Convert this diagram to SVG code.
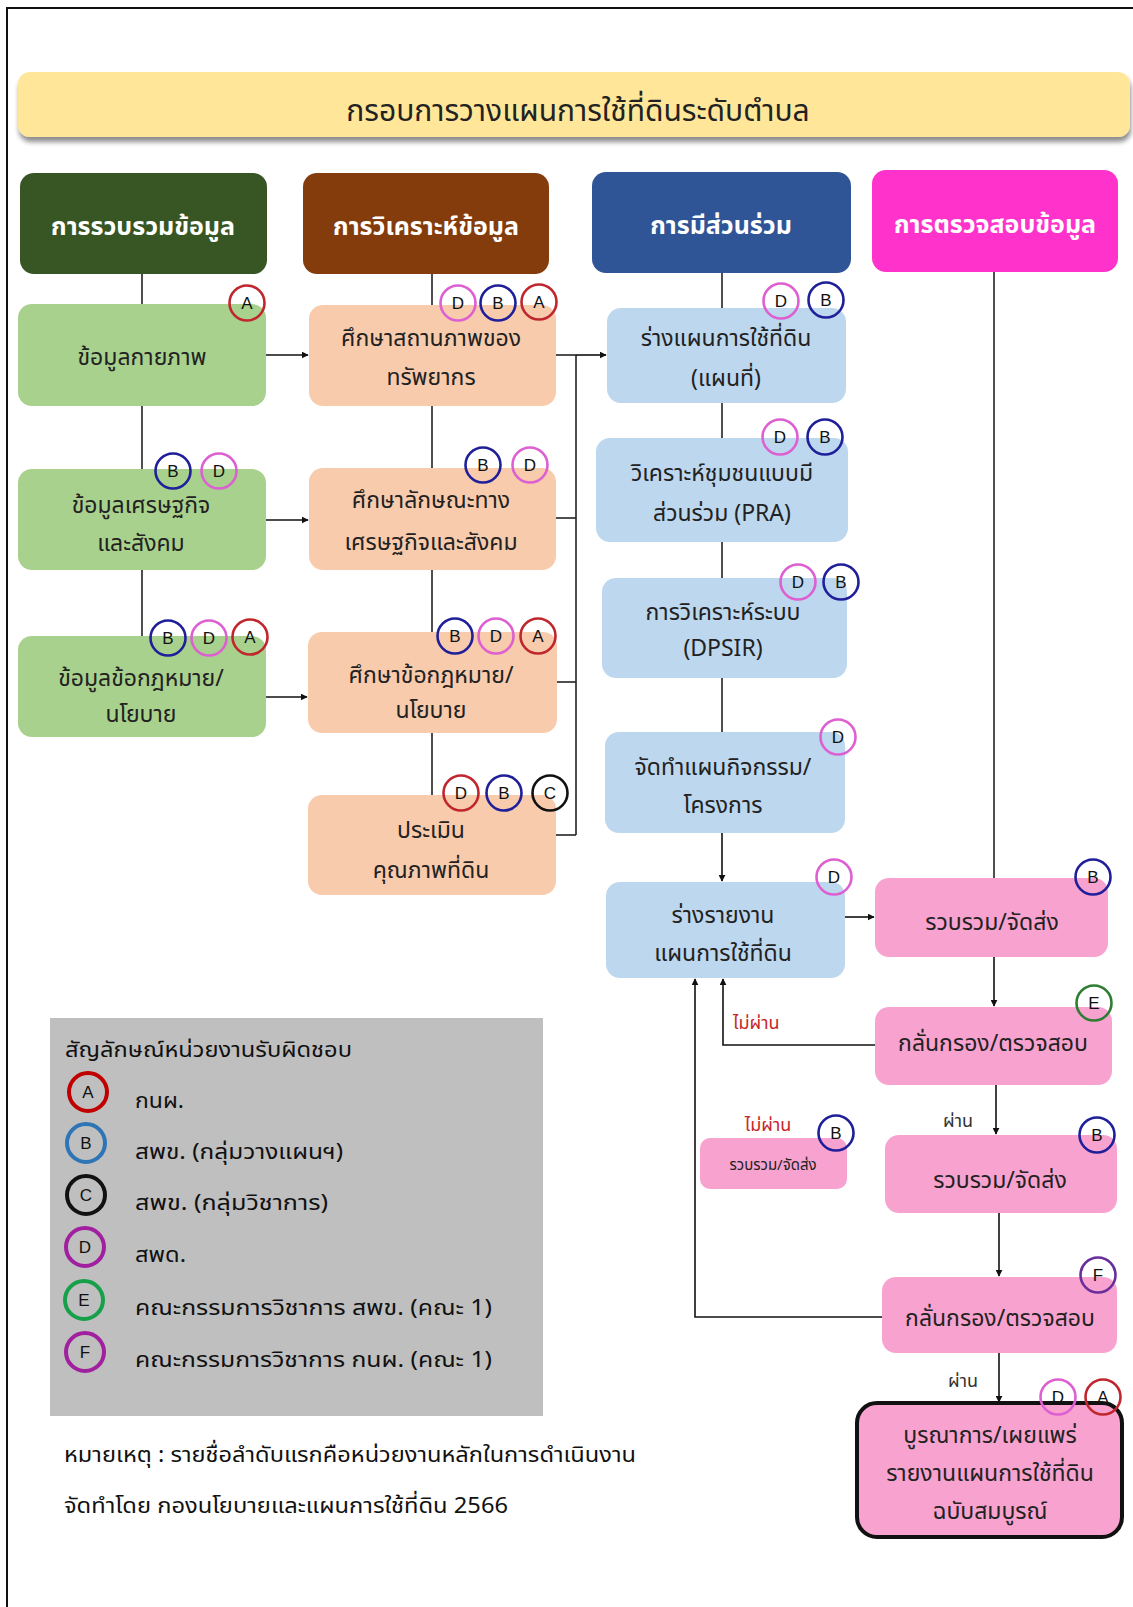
<svg xmlns="http://www.w3.org/2000/svg" width="1133" height="1607" viewBox="0 0 1133 1607">
<defs>
<style>
.t{font-family:'Noto Sans Thai','Noto Sans','DejaVu Sans',sans-serif;}
.hd{font-size:25px;font-weight:bold;fill:#fff;text-anchor:middle;}
.nt{font-size:23px;fill:#222;text-anchor:middle;}
.ln{stroke:#222;stroke-width:1.6;fill:none;}
.ar{stroke:#111;stroke-width:1.6;fill:none;marker-end:url(#ah);}
.bd{fill:none;stroke-width:2.6;}
.bl{font-family:'Liberation Sans',Arial,sans-serif;font-size:17px;fill:#111;text-anchor:middle;}
.g{fill:#A9D18E;}
.p{fill:#F8CBAD;}
.b{fill:#BDD7EE;}
.k{fill:#F8A2CF;}
.cA{stroke:#C0262D;}
.cB{stroke:#1F1F9A;}
.cC{stroke:#111;}
.cD{stroke:#DD5FD2;}
.cE{stroke:#2E7D32;}
.cF{stroke:#6A2E9A;}
.red{fill:#C62828;font-size:18px;}
.lg{font-size:22px;fill:#111;}
</style>
<marker id="ah" viewBox="0 0 10 10" refX="9" refY="5" markerWidth="7" markerHeight="7" markerUnits="userSpaceOnUse" orient="auto">
<path d="M0,0 L10,5 L0,10 z" fill="#111"/>
</marker>
<filter id="sh" x="-5%" y="-20%" width="110%" height="160%">
<feGaussianBlur in="SourceAlpha" stdDeviation="2.5"/>
<feOffset dx="1" dy="5" result="o"/>
<feComponentTransfer><feFuncA type="linear" slope="0.45"/></feComponentTransfer>
<feMerge><feMergeNode/><feMergeNode in="SourceGraphic"/></feMerge>
</filter>
</defs>
<rect x="0" y="0" width="1133" height="1607" fill="#fff"/>
<rect x="7" y="8" width="1200" height="1700" fill="none" stroke="#111" stroke-width="2"/>

<g id="title">
<rect x="18" y="72" width="1112" height="65" rx="12" fill="#FFE699" filter="url(#sh)"/>
<text class="t" x="578" y="121" font-size="30" fill="#222" text-anchor="middle">กรอบการวางแผนการใช้ที่ดินระดับตำบล</text>
</g>

<g id="connectors">
<line class="ln" x1="142" y1="274" x2="142" y2="304"/>
<line class="ln" x1="142" y1="406" x2="142" y2="469"/>
<line class="ln" x1="142" y1="570" x2="142" y2="636"/>
<line class="ar" x1="266" y1="355" x2="308" y2="355"/>
<line class="ar" x1="266" y1="520" x2="308" y2="520"/>
<line class="ar" x1="266" y1="697" x2="307" y2="697"/>
<line class="ln" x1="432" y1="274" x2="432" y2="305"/>
<line class="ln" x1="432" y1="406" x2="432" y2="468"/>
<line class="ln" x1="432" y1="570" x2="432" y2="632"/>
<line class="ln" x1="432" y1="733" x2="432" y2="795"/>
<line class="ln" x1="556" y1="355" x2="576" y2="355"/>
<line class="ln" x1="556" y1="518" x2="576" y2="518"/>
<line class="ln" x1="556" y1="682" x2="576" y2="682"/>
<line class="ln" x1="556" y1="835" x2="576" y2="835"/>
<line class="ln" x1="576" y1="355" x2="576" y2="835"/>
<line class="ar" x1="576" y1="355" x2="606" y2="355"/>
<line class="ln" x1="722" y1="273" x2="722" y2="308"/>
<line class="ln" x1="722" y1="403" x2="722" y2="438"/>
<line class="ln" x1="722" y1="542" x2="722" y2="578"/>
<line class="ln" x1="722" y1="678" x2="722" y2="732"/>
<line class="ar" x1="722" y1="833" x2="722" y2="881"/>
<line class="ar" x1="845" y1="917" x2="874" y2="917"/>
<line class="ln" x1="994" y1="272" x2="994" y2="878"/>
<line class="ar" x1="994" y1="957" x2="994" y2="1006"/>
<line class="ar" x1="996" y1="1085" x2="996" y2="1134"/>
<line class="ar" x1="999" y1="1213" x2="999" y2="1276"/>
<line class="ar" x1="999" y1="1353" x2="999" y2="1402"/>
<polyline class="ar" points="875,1045 723,1045 723,979"/>
<polyline class="ar" points="882,1317 695,1317 695,979"/>
<text class="t red" x="733" y="1029">ไม่ผ่าน</text>
<text class="t red" x="768" y="1131" text-anchor="middle">ไม่ผ่าน</text>
<text class="t" x="958" y="1127" font-size="18" fill="#333" text-anchor="middle">ผ่าน</text>
<text class="t" x="963" y="1387" font-size="18" fill="#333" text-anchor="middle">ผ่าน</text>
</g>

<g id="h1"><rect x="20" y="173" width="247" height="101" rx="14" fill="#375623"/><text class="t hd" x="143" y="235">การรวบรวมข้อมูล</text></g>
<g id="h2"><rect x="303" y="173" width="246" height="101" rx="14" fill="#843C0C"/><text class="t hd" x="426" y="235">การวิเคราะห์ข้อมูล</text></g>
<g id="h3"><rect x="592" y="172" width="259" height="101" rx="14" fill="#2F5597"/><text class="t hd" x="721" y="234">การมีส่วนร่วม</text></g>
<g id="h4"><rect x="872" y="170" width="246" height="102" rx="14" fill="#FF33CC"/><text class="t hd" x="995" y="233">การตรวจสอบข้อมูล</text></g>

<g id="g1"><rect class="g" x="18" y="304" width="248" height="102" rx="14"/><text class="t nt" x="142" y="365">ข้อมูลกายภาพ</text>
<circle class="bd cA" cx="247" cy="303" r="17.5"/><text class="bl" x="247" y="309">A</text></g>
<g id="g2"><rect class="g" x="18" y="469" width="248" height="101" rx="14"/><text class="t nt" x="141" y="513">ข้อมูลเศรษฐกิจ</text><text class="t nt" x="141" y="551">และสังคม</text>
<circle class="bd cB" cx="173" cy="471" r="17.5"/><text class="bl" x="173" y="477">B</text>
<circle class="bd cD" cx="219" cy="471" r="17.5"/><text class="bl" x="219" y="477">D</text></g>
<g id="g3"><rect class="g" x="18" y="636" width="248" height="101" rx="14"/><text class="t nt" x="141" y="686">ข้อมูลข้อกฎหมาย/</text><text class="t nt" x="141" y="722">นโยบาย</text>
<circle class="bd cB" cx="168" cy="638" r="17.5"/><text class="bl" x="168" y="644">B</text>
<circle class="bd cD" cx="209" cy="638" r="17.5"/><text class="bl" x="209" y="644">D</text>
<circle class="bd cA" cx="250" cy="637" r="17.5"/><text class="bl" x="250" y="643">A</text></g>

<g id="p1"><rect class="p" x="309" y="305" width="247" height="101" rx="14"/><text class="t nt" x="431" y="346">ศึกษาสถานภาพของ</text><text class="t nt" x="431" y="385">ทรัพยากร</text>
<circle class="bd cD" cx="458" cy="303" r="17.5"/><text class="bl" x="458" y="309">D</text>
<circle class="bd cB" cx="498" cy="303" r="17.5"/><text class="bl" x="498" y="309">B</text>
<circle class="bd cA" cx="539" cy="302" r="17.5"/><text class="bl" x="539" y="308">A</text></g>
<g id="p2"><rect class="p" x="309" y="468" width="247" height="102" rx="14"/><text class="t nt" x="431" y="508">ศึกษาลักษณะทาง</text><text class="t nt" x="431" y="550">เศรษฐกิจและสังคม</text>
<circle class="bd cB" cx="483" cy="465" r="17.5"/><text class="bl" x="483" y="471">B</text>
<circle class="bd cD" cx="530" cy="465" r="17.5"/><text class="bl" x="530" y="471">D</text></g>
<g id="p3"><rect class="p" x="308" y="632" width="249" height="101" rx="14"/><text class="t nt" x="431" y="683">ศึกษาข้อกฎหมาย/</text><text class="t nt" x="431" y="718">นโยบาย</text>
<circle class="bd cB" cx="455" cy="636" r="17.5"/><text class="bl" x="455" y="642">B</text>
<circle class="bd cD" cx="496" cy="636" r="17.5"/><text class="bl" x="496" y="642">D</text>
<circle class="bd cA" cx="538" cy="636" r="17.5"/><text class="bl" x="538" y="642">A</text></g>
<g id="p4"><rect class="p" x="308" y="795" width="248" height="100" rx="14"/><text class="t nt" x="431" y="838">ประเมิน</text><text class="t nt" x="431" y="878">คุณภาพที่ดิน</text>
<circle class="bd cA" cx="461" cy="793" r="17.5"/><text class="bl" x="461" y="799">D</text>
<circle class="bd cB" cx="504" cy="793" r="17.5"/><text class="bl" x="504" y="799">B</text>
<circle class="bd cC" cx="550" cy="793" r="17.5"/><text class="bl" x="550" y="799">C</text></g>

<g id="b1"><rect class="b" x="607" y="308" width="239" height="95" rx="14"/><text class="t nt" x="726" y="346">ร่างแผนการใช้ที่ดิน</text><text class="t nt" x="726" y="386">(แผนที่)</text>
<circle class="bd cD" cx="781" cy="301" r="17.5"/><text class="bl" x="781" y="307">D</text>
<circle class="bd cB" cx="826" cy="300" r="17.5"/><text class="bl" x="826" y="306">B</text></g>
<g id="b2"><rect class="b" x="596" y="438" width="252" height="104" rx="14"/><text class="t nt" x="722" y="481">วิเคราะห์ชุมชนแบบมี</text><text class="t nt" x="722" y="521">ส่วนร่วม (PRA)</text>
<circle class="bd cD" cx="780" cy="437" r="17.5"/><text class="bl" x="780" y="443">D</text>
<circle class="bd cB" cx="825" cy="437" r="17.5"/><text class="bl" x="825" y="443">B</text></g>
<g id="b3"><rect class="b" x="602" y="578" width="245" height="100" rx="14"/><text class="t nt" x="723" y="620">การวิเคราะห์ระบบ</text><text class="t nt" x="723" y="656">(DPSIR)</text>
<circle class="bd cD" cx="798" cy="582" r="17.5"/><text class="bl" x="798" y="588">D</text>
<circle class="bd cB" cx="841" cy="582" r="17.5"/><text class="bl" x="841" y="588">B</text></g>
<g id="b4"><rect class="b" x="605" y="732" width="240" height="101" rx="14"/><text class="t nt" x="723" y="775">จัดทำแผนกิจกรรม/</text><text class="t nt" x="723" y="813">โครงการ</text>
<circle class="bd cD" cx="838" cy="737" r="17.5"/><text class="bl" x="838" y="743">D</text></g>
<g id="b5"><rect class="b" x="606" y="882" width="239" height="96" rx="14"/><text class="t nt" x="723" y="923">ร่างรายงาน</text><text class="t nt" x="723" y="961">แผนการใช้ที่ดิน</text>
<circle class="bd cD" cx="834" cy="877" r="17.5"/><text class="bl" x="834" y="883">D</text></g>

<g id="r1"><rect class="k" x="875" y="878" width="233" height="79" rx="14"/><text class="t nt" x="992" y="930">รวบรวม/จัดส่ง</text>
<circle class="bd cB" cx="1093" cy="877" r="17.5"/><text class="bl" x="1093" y="883">B</text></g>
<g id="r2"><rect class="k" x="875" y="1007" width="237" height="78" rx="14"/><text class="t nt" x="993" y="1051">กลั่นกรอง/ตรวจสอบ</text>
<circle class="bd cE" cx="1094" cy="1003" r="17.5"/><text class="bl" x="1094" y="1009">E</text></g>
<g id="r3"><rect class="k" x="885" y="1135" width="232" height="78" rx="14"/><text class="t nt" x="1000" y="1188">รวบรวม/จัดส่ง</text>
<circle class="bd cB" cx="1097" cy="1135" r="17.5"/><text class="bl" x="1097" y="1141">B</text></g>
<g id="r4"><rect class="k" x="882" y="1277" width="235" height="76" rx="14"/><text class="t nt" x="1000" y="1326">กลั่นกรอง/ตรวจสอบ</text>
<circle class="bd cF" cx="1098" cy="1275" r="17.5"/><text class="bl" x="1098" y="1281">F</text></g>
<g id="s1"><rect class="k" x="700" y="1138" width="147" height="51" rx="10"/><text class="t" x="773" y="1170" font-size="15" fill="#222" text-anchor="middle">รวบรวม/จัดส่ง</text>
<circle class="bd cB" cx="836" cy="1133" r="17.5"/><text class="bl" x="836" y="1139">B</text></g>
<g id="fin"><rect class="k" x="857" y="1403" width="265" height="134" rx="20" stroke="#111" stroke-width="4"/>
<text class="t nt" x="990" y="1443">บูรณาการ/เผยแพร่</text><text class="t nt" x="990" y="1481">รายงานแผนการใช้ที่ดิน</text><text class="t nt" x="990" y="1519">ฉบับสมบูรณ์</text>
<circle class="bd cD" cx="1058" cy="1397" r="17.5"/><text class="bl" x="1058" y="1403">D</text>
<circle class="bd cA" cx="1103" cy="1397" r="17.5"/><text class="bl" x="1103" y="1403">A</text></g>

<g id="legend">
<rect x="50" y="1018" width="493" height="398" fill="#BFBFBF"/>
<text class="t lg" x="65" y="1057" textLength="287" lengthAdjust="spacingAndGlyphs">สัญลักษณ์หน่วยงานรับผิดชอบ</text>
<circle cx="88" cy="1092" r="19" fill="none" stroke="#C00000" stroke-width="4"/><text class="bl" x="88" y="1098">A</text>
<circle cx="86" cy="1143" r="19" fill="none" stroke="#2E75B6" stroke-width="4"/><text class="bl" x="86" y="1149">B</text>
<circle cx="86" cy="1195" r="19" fill="none" stroke="#111" stroke-width="4"/><text class="bl" x="86" y="1201">C</text>
<circle cx="85" cy="1247" r="19" fill="none" stroke="#A020A0" stroke-width="4"/><text class="bl" x="85" y="1253">D</text>
<circle cx="84" cy="1300" r="19" fill="none" stroke="#16A04A" stroke-width="4"/><text class="bl" x="84" y="1306">E</text>
<circle cx="85" cy="1352" r="19" fill="none" stroke="#A020A0" stroke-width="4"/><text class="bl" x="85" y="1358">F</text>
<text class="t lg" x="135" y="1108" textLength="49" lengthAdjust="spacingAndGlyphs">กนผ.</text>
<text class="t lg" x="135" y="1159" textLength="208" lengthAdjust="spacingAndGlyphs">สพข. (กลุ่มวางแผนฯ)</text>
<text class="t lg" x="135" y="1210" textLength="193" lengthAdjust="spacingAndGlyphs">สพข. (กลุ่มวิชาการ)</text>
<text class="t lg" x="135" y="1262" textLength="51" lengthAdjust="spacingAndGlyphs">สพด.</text>
<text class="t lg" x="135" y="1315" textLength="357" lengthAdjust="spacingAndGlyphs">คณะกรรมการวิชาการ สพข. (คณะ 1)</text>
<text class="t lg" x="135" y="1367" textLength="357" lengthAdjust="spacingAndGlyphs">คณะกรรมการวิชาการ กนผ. (คณะ 1)</text>
</g>
<g id="notes">
<text class="t lg" x="64" y="1462" textLength="572" lengthAdjust="spacingAndGlyphs">หมายเหตุ : รายชื่อลำดับแรกคือหน่วยงานหลักในการดำเนินงาน</text>
<text class="t lg" x="64" y="1513" textLength="444" lengthAdjust="spacingAndGlyphs">จัดทำโดย กองนโยบายและแผนการใช้ที่ดิน 2566</text>
</g>
</svg>
